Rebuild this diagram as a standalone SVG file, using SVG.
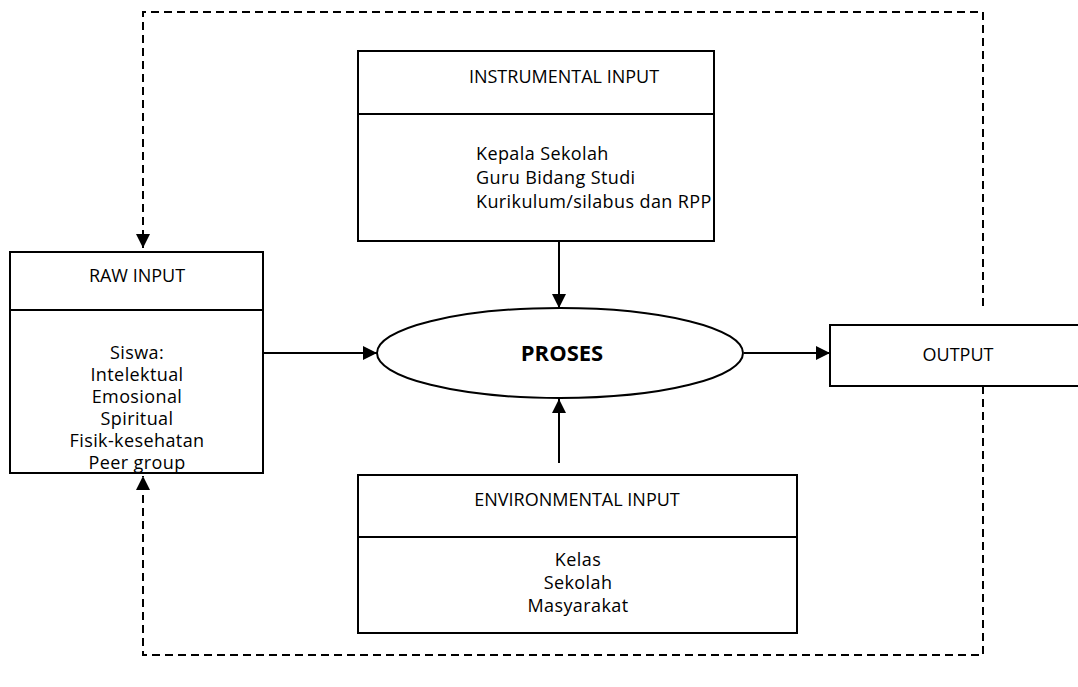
<svg xmlns="http://www.w3.org/2000/svg" width="1078" height="687" viewBox="0 0 1078 687">
<defs>
<style>
.box{fill:#fff;stroke:#000;stroke-width:2}
.div{stroke:#000;stroke-width:2}
.t{font-family:"Open Sans","Liberation Sans",sans-serif;font-size:18px;fill:#000}
.s{letter-spacing:0.4px}
.c{text-anchor:middle}
.b{font-weight:bold;font-size:22px}
.con{fill:none;stroke:#000;stroke-width:2}
.dash{fill:none;stroke:#000;stroke-width:2;stroke-dasharray:8 5}
</style>
<marker id="ah" markerUnits="userSpaceOnUse" markerWidth="16" markerHeight="16" viewBox="0 0 16 16" refX="15" refY="8" orient="auto">
<path d="M1,1 L15,8 L1,15 Z" fill="#000"/>
</marker>
</defs>
<rect width="1078" height="687" fill="#fff"/>

<g id="connectors">
<line class="con" x1="559" y1="241" x2="559" y2="308" marker-end="url(#ah)"/>
<line class="con" x1="559" y1="463" x2="559" y2="399" marker-end="url(#ah)"/>
<line class="con" x1="263" y1="353" x2="377" y2="353" marker-end="url(#ah)"/>
<line class="con" x1="744" y1="353" x2="830" y2="353" marker-end="url(#ah)"/>
<path class="dash" d="M983,306 L983,12 L143,12 L143,248" marker-end="url(#ah)"/>
<path class="dash" d="M983,386 L983,655 L143,655 L143,476" marker-end="url(#ah)"/>
</g>

<g id="raw-input">
<rect class="box" x="10" y="252" width="253" height="221"/>
<line class="div" x1="10" y1="310" x2="263" y2="310"/>
<text class="t c" x="137" y="282">RAW INPUT</text>
<text class="t s c" x="137" y="359">Siswa:</text>
<text class="t s c" x="137" y="381">Intelektual</text>
<text class="t s c" x="137" y="403">Emosional</text>
<text class="t s c" x="137" y="425">Spiritual</text>
<text class="t s c" x="137" y="447">Fisik-kesehatan</text>
<text class="t s c" x="137" y="469">Peer group</text>
</g>

<g id="instrumental-input">
<rect class="box" x="358" y="51" width="356" height="190"/>
<line class="div" x1="358" y1="114" x2="714" y2="114"/>
<text class="t c" x="564" y="83">INSTRUMENTAL INPUT</text>
<text class="t s" x="476" y="160">Kepala Sekolah</text>
<text class="t s" x="476" y="184">Guru Bidang Studi</text>
<text class="t s" x="476" y="208">Kurikulum/silabus dan RPP</text>
</g>

<g id="proses">
<ellipse cx="560" cy="353" rx="183" ry="45" fill="#fff" stroke="#000" stroke-width="2"/>
<text class="t c b" x="562" y="361">PROSES</text>
</g>

<g id="output">
<rect class="box" x="830" y="325" width="250" height="61"/>
<text class="t c" x="958" y="361">OUTPUT</text>
</g>

<g id="environmental-input">
<rect class="box" x="358" y="475" width="439" height="158"/>
<line class="div" x1="358" y1="537" x2="797" y2="537"/>
<text class="t c" x="577" y="506">ENVIRONMENTAL INPUT</text>
<text class="t s c" x="578" y="566">Kelas</text>
<text class="t s c" x="578" y="589">Sekolah</text>
<text class="t s c" x="578" y="612">Masyarakat</text>
</g>
</svg>
